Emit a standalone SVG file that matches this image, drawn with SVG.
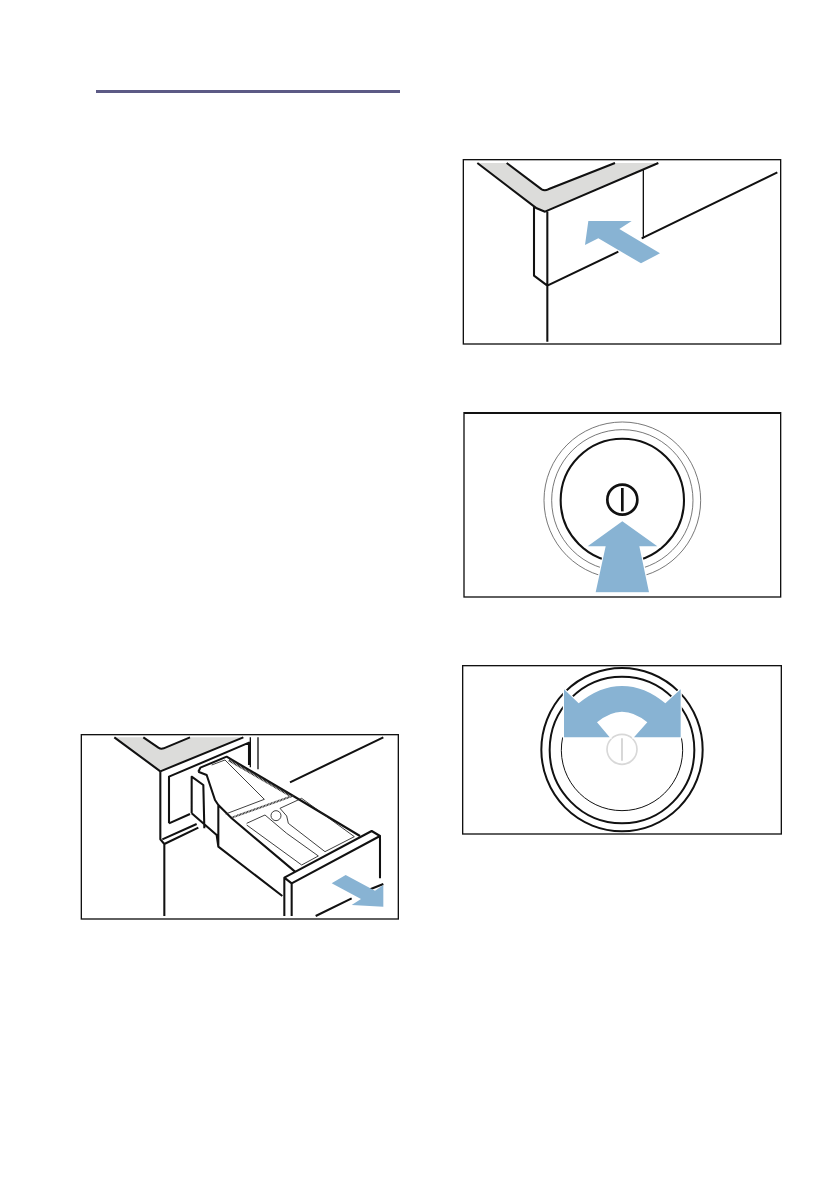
<svg xmlns="http://www.w3.org/2000/svg" width="839" height="1191" viewBox="0 0 839 1191">
<style>
.fr{fill:#fff;stroke:#111;stroke-width:4}
.k{fill:none;stroke:#111;stroke-width:6.2;stroke-linejoin:round;stroke-linecap:butt}
.m{fill:none;stroke:#111;stroke-width:4;stroke-linejoin:round}
.t{fill:none;stroke:#222;stroke-width:2.6;stroke-linejoin:round}
.g{fill:#dcdcda;stroke:none}
.a{fill:#88b3d3;stroke:none}
.h{fill:#88b3d3;stroke:#fff;stroke-width:7;paint-order:stroke;stroke-linejoin:miter}
.w{fill:#fff;stroke:none}
</style>
<rect id="rule" x="96" y="90" width="304" height="3" fill="#5c5a85"/>

<g id="panel-drawer" transform="translate(75 730) scale(.33333)">
<rect class="fr" x="19" y="14" width="951" height="553"/>
<path class="g" d="M118 22H205L262 58L345 22H510L256 124Z"/>
<path class="k" d="M118 22L256 124M205 22L250 53Q258 58 266 55L345 22M256 124L505 22M645 157L925 22"/>
<path class="m" d="M526 22V112M549 22V118"/>
<path class="k" d="M256 124V328L268 342L370 293M262 328L365 282M268 342V558M282 280V140L522 38V105M282 280L345 252"/>
<path class="w" d="M350 140L372 115L455 80L915 318V558H628V498L430 350L350 250Z"/>
<path class="k" d="M350 250V140L385 165L388 295M350 250L425 315L430 350L622 498M370 125L395 135L420 210L430 225V350M370 125L376 113L455 80L650 195L855 318M430 225L470 265L660 425"/>
<path d="M462 90L645 196" fill="none" stroke="#222" stroke-width="8" stroke-dasharray="3 1.5"/>
<path class="t" d="M410 105L450 90L568 208L452 252"/>
<path d="M470 263L655 197" fill="none" stroke="#333" stroke-width="6" stroke-dasharray="3 1.5"/>
<path class="t" d="M515 280L570 255L635 310L730 378L680 405L515 285M615 235L680 205L838 320L750 365L640 280L635 258Z"/>
<circle class="w" cx="603" cy="257" r="16"/>
<circle class="t" cx="603" cy="257" r="15"/>
<path class="w" d="M628 443L890 303L915 318V558H628Z"/>
<path class="k" d="M628 558V443L890 303L915 318L650 460V558M628 443L650 460M915 318V445M722 558L830 505M880 480L925 462"/>
<path class="a" d="M770 460L812 435L900 482L925 465V530L830 525L858 507Z"/>
</g>

<g id="panel-push-in" transform="translate(460 155) scale(.33333)">
<rect class="fr" x="10" y="14" width="952" height="553"/>
<path class="g" d="M52 24H140L250 105L465 24H595L255 170L230 160Z"/>
<path class="k" d="M52 24L230 160L255 170L595 24M140 24L245 103Q254 108 265 103L465 24M262 170V560M222 155V362L262 392L475 290M545 250L952 52"/>
<path class="m" d="M550 42V250"/>
<path class="a" d="M375 270L385 198H515L478 222L600 295L543 325L415 250Z"/>
</g>

<g id="panel-press" transform="translate(460 408) scale(.33333)">
<rect class="fr" x="12" y="14" width="950" height="553"/>
<path d="M12 15H962" stroke="#111" stroke-width="6" fill="none"/>
<circle cx="487" cy="277" r="235" fill="none" stroke="#555" stroke-width="2.4"/>
<circle cx="487" cy="277" r="212" fill="none" stroke="#555" stroke-width="2.4"/>
<circle cx="487" cy="277" r="185" fill="none" stroke="#111" stroke-width="6.2"/>
<circle cx="487" cy="275" r="45" fill="none" stroke="#111" stroke-width="8"/>
<path d="M487 240V310" fill="none" stroke="#111" stroke-width="8"/>
<path class="h" d="M487 340L592 415H538L567 553H407L437 415H383Z"/>
<path class="w" d="M395 554H580V564H395Z"/>
</g>

<g id="panel-turn" transform="translate(458 660) scale(.33333)">
<rect class="fr" x="14" y="17" width="956" height="505"/>
<ellipse cx="492" cy="269" rx="242" ry="245" fill="none" stroke="#111" stroke-width="6"/>
<ellipse cx="492" cy="270" rx="217" ry="220" fill="none" stroke="#111" stroke-width="6"/>
<path d="M314 232A182 182 0 1 0 670 232" fill="none" stroke="#111" stroke-width="3"/>
<circle cx="492" cy="268" r="45" fill="none" stroke="#d8d8d8" stroke-width="5"/>
<path d="M492 235V302" fill="none" stroke="#d0d0d0" stroke-width="5"/>
<path class="h" d="M318 88L362 130Q425 78 492 78Q560 78 622 130L668 88V232H528L568 187Q530 155 492 155Q455 155 417 187L455 232H318Z"/>
</g>
</svg>
